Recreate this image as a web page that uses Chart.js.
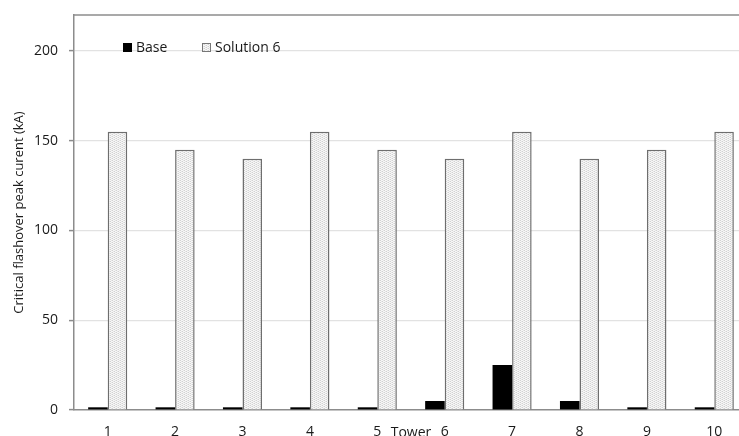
<!DOCTYPE html>
<html>
<head>
<meta charset="utf-8">
<script src="https://cdn.jsdelivr.net/npm/chart.js@4.4.1/dist/chart.umd.min.js"></script>
<style>
    html, body { margin: 0; padding: 0; background: #fff; overflow: hidden; }
    #wrap { position: relative; width: 748px; height: 450px; }
</style>
</head>
<body>
<div id="wrap"><canvas id="chartTower"></canvas></div>
<script>
    const towers = ['1', '2', '3', '4', '5', '6', '7', '8', '9', '10']
    const baseValues = [1.5, 1.5, 1.5, 1.5, 1.5, 5, 25, 5, 1.5, 1.5]
    const solutionValues = [155, 145, 140, 155, 145, 140, 155, 140, 145, 155]
    const yTicks = [0, 50, 100, 150, 200]

    const seriesNames = ['Base', 'Solution 6']

    const fontFamily = "'Open Sans', 'Noto Sans', sans-serif"

    // light stipple fill, like the printed figure
    const makePattern = () => {
        const c = document.createElement('canvas')
        c.width = 4
        c.height = 2
        const cx = c.getContext('2d')
        cx.fillStyle = '#f7f7f7'
        cx.fillRect(0, 0, 4, 2)
        cx.fillStyle = '#d2d2d2'
        cx.fillRect(0, 0, 1, 1)
        cx.fillRect(2, 1, 1, 1)
        cx.fillStyle = '#e6e6e6'
        cx.fillRect(1, 1, 1, 1)
        cx.fillRect(3, 0, 1, 1)
        return cx.createPattern(c, 'repeat')
    }

    const dotted = makePattern()

    const frameAndLegend = {
        id: 'frameAndLegend',
        afterDraw(chart) {
            const { ctx, chartArea } = chart
            ctx.save()
            // top frame line
            ctx.strokeStyle = '#8c8c8c'
            ctx.lineWidth = 1.5
            ctx.beginPath()
            ctx.moveTo(chartArea.left, chartArea.top)
            ctx.lineTo(chartArea.right, chartArea.top)
            ctx.stroke()

            // legend inside the plot
            ctx.font = '14px ' + fontFamily
            ctx.textBaseline = 'middle'
            ctx.fillStyle = '#000'
            ctx.fillRect(123, 43, 9, 9)
            ctx.fillStyle = '#1a1a1a'
            ctx.fillText(seriesNames[0], 136, 48)

            ctx.fillStyle = dotted
            ctx.fillRect(202, 43, 9, 9)
            ctx.strokeStyle = '#777'
            ctx.lineWidth = 1
            ctx.strokeRect(202.5, 43.5, 8, 8)
            ctx.fillStyle = '#1a1a1a'
            ctx.fillText(seriesNames[1], 215, 48)
            ctx.restore()
        }
    }

    document.addEventListener('DOMContentLoaded', function() {

        new Chart(document.getElementById('chartTower').getContext('2d'), {
            type: 'bar',
            data: {
                labels: towers,
                datasets: [
                    {
                        label: seriesNames[0],
                        data: baseValues,
                        backgroundColor: '#000',
                        borderWidth: 0
                    },
                    {
                        label: seriesNames[1],
                        data: solutionValues,
                        backgroundColor: dotted,
                        borderColor: '#6e6e6e',
                        borderWidth: 1.5
                    }
                ]
            },
            options: {
                responsive: true,
                maintainAspectRatio: false,
                animation: false,
                layout: { padding: { top: 15, left: 0, right: 0, bottom: 0 } },
                datasets: {
                    bar: { categoryPercentage: 0.58, barPercentage: 1 }
                },
                plugins: {
                    legend: { display: false },
                    tooltip: { enabled: false }
                },
                scales: {
                    x: {
                        grid: { display: false, drawTicks: false },
                        border: { color: '#8c8c8c', width: 1.5 },
                        ticks: {
                            padding: 14,
                            color: '#1a1a1a',
                            font: { family: fontFamily, size: 14 }
                        },
                        title: {
                            display: true,
                            text: 'Tower',
                            color: '#1a1a1a',
                            font: { family: fontFamily, size: 14 },
                            padding: { top: 0, bottom: 9 }
                        },
                        afterFit: (scale) => {
                            scale.height = 40
                            scale.paddingLeft = 0
                            scale.paddingRight = 0
                        }
                    },
                    y: {
                        min: 0,
                        max: 220,
                        afterBuildTicks: (scale) => {
                            scale.ticks = yTicks.map(v => ({ value: v }))
                        },
                        grid: {
                            color: (c) => c.tick && c.tick.value === 0 ? 'rgba(0,0,0,0)' : '#e2e2e2',
                            lineWidth: 1.2,
                            tickLength: 5,
                            tickColor: '#8c8c8c',
                            tickWidth: 1.5
                        },
                        border: { color: '#8c8c8c', width: 1.5 },
                        ticks: {
                            padding: 11,
                            color: '#1a1a1a',
                            font: { family: fontFamily, size: 14 }
                        },
                        title: {
                            display: true,
                            text: 'Critical flashover peak curent (kA)',
                            color: '#1a1a1a',
                            font: { family: fontFamily, size: 13 },
                            padding: { top: 11, bottom: 0 }
                        },
                        afterFit: (scale) => {
                            scale.width = 74
                            scale.paddingTop = 0
                            scale.paddingBottom = 0
                        }
                    }
                }
            },
            plugins: [frameAndLegend]
        })

    })
</script>
</body>
</html>
